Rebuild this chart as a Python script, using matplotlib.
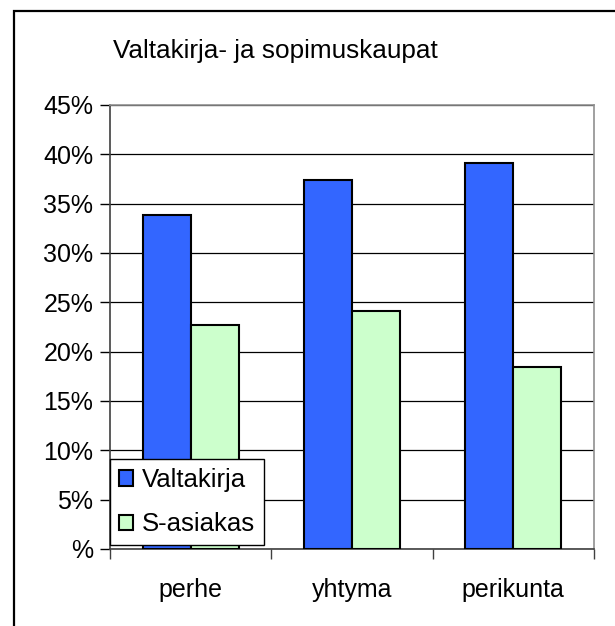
import matplotlib
matplotlib.use("Agg")
import matplotlib.pyplot as plt
from matplotlib.patches import Rectangle
import numpy as np

categories = ["perhe", "yhtyma", "perikunta"]
valtakirja = [0.339, 0.374, 0.391]
s_asiakas = [0.227, 0.241, 0.184]
series_names = ["Valtakirja", "S-asiakas"]
yticks = [0, 0.05, 0.10, 0.15, 0.20, 0.25, 0.30, 0.35, 0.40, 0.45]
ytick_labels = ["%", "5%", "10%", "15%", "20%", "25%", "30%", "35%", "40%", "45%"]
title = "Valtakirja- ja sopimuskaupat"

plt.rcParams['font.family'] = ['Liberation Sans', 'DejaVu Sans']

W, H = 615, 626
fig = plt.figure(figsize=(W / 100, H / 100), dpi=100)

# outer chart frame (partly cropped)
fig.patches.append(Rectangle((14 / W, -0.05), 1.1, (H - 11) / H + 0.05,
                             transform=fig.transFigure, fill=False,
                             edgecolor='black', linewidth=1.6))

ax = fig.add_axes([110 / W, 77 / H, 484 / W, 444 / H])
x = np.arange(len(categories))
bw = 0.298
ax.bar(x - bw / 2, valtakirja, bw, color='#3366FF', edgecolor='black',
       linewidth=1.5, label=series_names[0], zorder=3)
ax.bar(x + bw / 2, s_asiakas, bw, color='#CCFFCC', edgecolor='black',
       linewidth=1.5, label=series_names[1], zorder=3)

ax.set_xlim(-0.5, len(categories) - 0.5)
ax.set_ylim(0, 0.45)
ax.set_yticks(yticks)
ax.set_yticklabels(ytick_labels, fontsize=18)
ax.yaxis.grid(True, color='black', linewidth=0.9, zorder=0)
ax.set_axisbelow(True)

ax.set_xticks(x)
ax.set_xticklabels(categories, fontsize=18)
ax.set_xticks(np.arange(-0.5, len(categories), 1), minor=True)
ax.tick_params(axis='x', which='major', length=0, pad=21)
ax.tick_params(axis='x', which='minor', length=7, width=1, direction='out', color='#404040')
ax.tick_params(axis='y', length=7, width=1, direction='out', pad=5, color='black')

ax.spines['left'].set_color('#404040')
ax.spines['bottom'].set_color('#404040')
ax.spines['right'].set_color('#909090')
ax.spines['top'].set_color('#909090')
for s in ax.spines.values():
    s.set_linewidth(1.2)

leg = ax.legend(loc='lower left', bbox_to_anchor=(0.0, 0.008), fontsize=18.5,
                frameon=True, fancybox=False, edgecolor='black', framealpha=1.0,
                handlelength=0.55, handleheight=0.55, handletextpad=0.35,
                borderpad=0.35, labelspacing=0.8, borderaxespad=0.0)
leg.get_frame().set_linewidth(1.0)
leg.set_zorder(5)

fig.text(275 / W, (H - 58) / H, title, ha='center', va='baseline',
         fontsize=18.8)

fig.savefig("out.png", dpi=100)
